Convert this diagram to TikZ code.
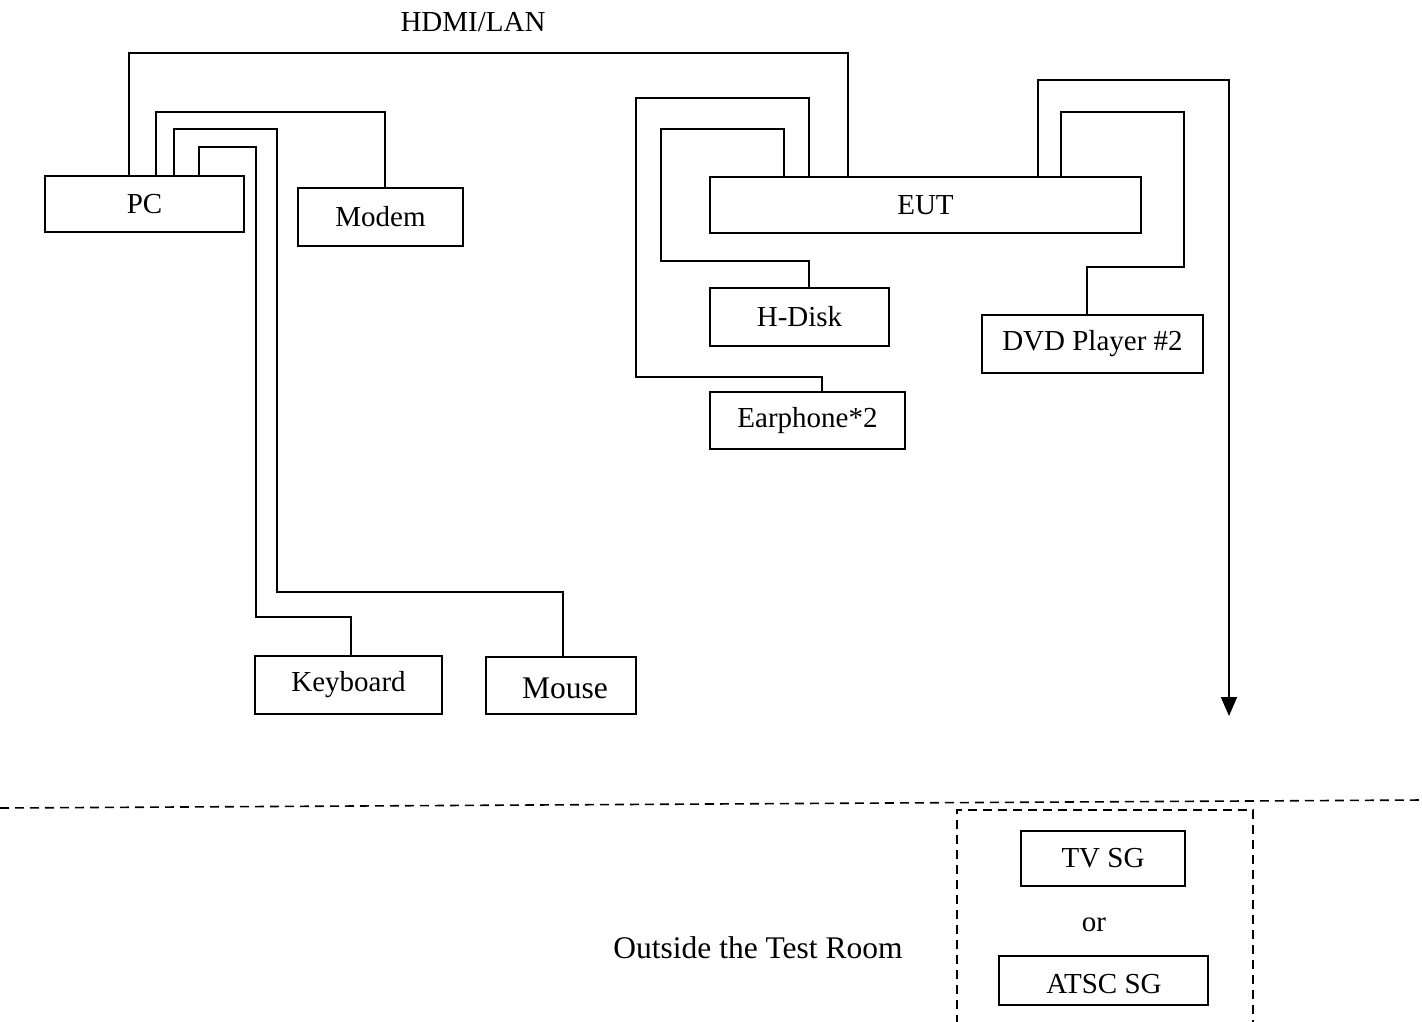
\documentclass[tikz,border=0pt]{standalone}
\usepackage{fontspec}
\setmainfont{Liberation Serif}
\usetikzlibrary{calc,arrows.meta}
\newcommand\lab{\fontsize{29}{34}\selectfont}
\newcommand\labbig{\fontsize{31.5}{36}\selectfont}
\tikzset{
  box/.style={draw, line width=1.8pt, inner sep=0pt, outer sep=0pt, font=\lab},
  wire/.style={line width=1.8pt},
  room/.style={line width=1.6pt, dash pattern=on 9pt off 6pt},
  txt/.style={inner sep=0pt, outer sep=0pt}
}
\begin{document}
\begin{tikzpicture}[x=1pt,y=-1pt]
\useasboundingbox (0,0) rectangle (1422,1021);
% boxes
\node[box, minimum width=199pt, minimum height=56pt] (pc) at (144.5,204) {PC};
\node[box, minimum width=165pt, minimum height=58pt] (modem) at (380.5,217) {Modem};
\node[box, minimum width=187pt, minimum height=58pt] (kbd) at (348.5,685) {Keyboard};
\node[box, minimum width=150pt, minimum height=57pt] (mouse) at (561,685.5) {};
\node[txt, font=\labbig] (mousetxt) at (565,688) {Mouse};
\node[box, minimum width=431pt, minimum height=56pt] (eut) at (925.5,205) {EUT};
\node[box, minimum width=179pt, minimum height=58pt] (hdisk) at (799.5,317) {H-Disk};
\node[box, minimum width=195pt, minimum height=57pt] (ear) at (807.5,420.5) {Earphone*2};
\node[box, minimum width=221pt, minimum height=58pt] (dvd) at (1092.5,344) {DVD Player \#2};
\node[box, minimum width=164pt, minimum height=55pt] (tvsg) at (1103,858.5) {TV SG};
\node[box, minimum width=209pt, minimum height=49pt] (atsc) at (1103.5,980.5) {};
\node[txt, font=\lab] (atsctxt) at (1104,984) {ATSC SG};
% texts
\node[txt, font=\lab] (hdmi) at (473,22) {HDMI/LAN};
\node[txt, font=\lab] (or) at (1094,925) {or};
\node[txt, font=\labbig] (outside) at (758,948) {Outside the Test Room};
% PC connectors
\draw[wire] ($(pc.north west)+(84,0)$) |- (848,53) -- ($(eut.north west)+(138,0)$);
\draw[wire] ($(pc.north west)+(111,0)$) |- (385,112) -- ($(modem.north west)+(87,0)$);
\draw[wire] ($(pc.north west)+(129,0)$) |- (277,129) -- (277,592) -| ($(mouse.north west)+(77,0)$);
\draw[wire] ($(pc.north west)+(154,0)$) |- (256,147) -- (256,617) -| ($(kbd.north west)+(96,0)$);
% EUT connectors
\draw[wire] ($(eut.north west)+(99,0)$) |- (636,98) -- (636,377) -| ($(ear.north west)+(112,0)$);
\draw[wire] ($(eut.north west)+(74,0)$) |- (661,129) -- (661,261) -| ($(hdisk.north west)+(99,0)$);
\coordinate (out) at (1229,716);
\draw[wire, -{Triangle[width=16pt,length=19pt]}] ($(eut.north west)+(328,0)$) |- (1229,80) -- (out);
\draw[wire] ($(eut.north west)+(351,0)$) |- (1184,112) -- (1184,267) -| ($(dvd.north west)+(105,0)$);
% room boundary
\draw[room] (0,808) -- (1422,800);
\draw[room] (957,1024) -- (957,810) -- (1253,810) -- (1253,1024);
\end{tikzpicture}
\end{document}
